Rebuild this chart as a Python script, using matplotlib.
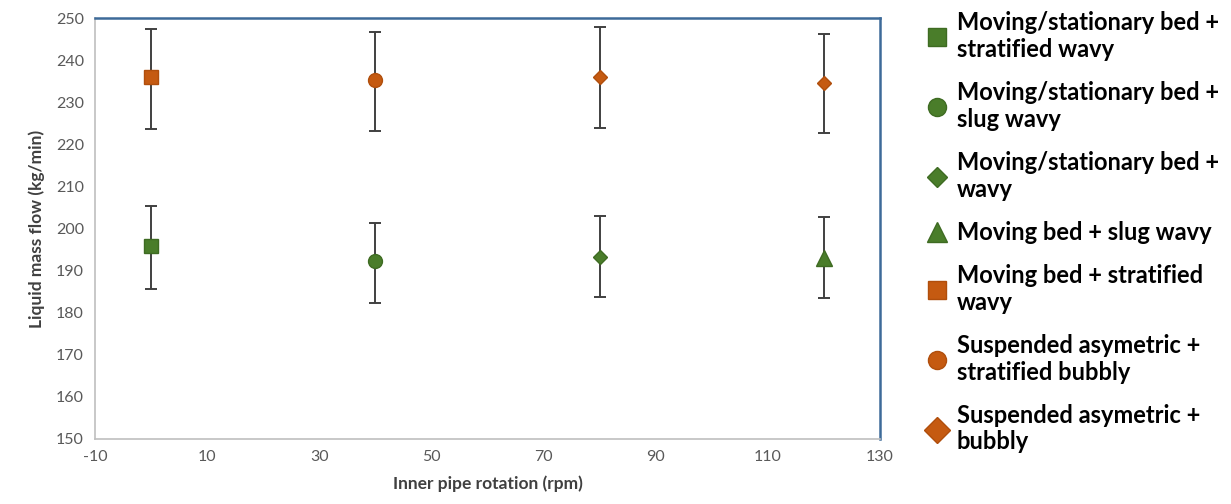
import matplotlib.pyplot as plt

plt.rcParams['font.family'] = ['Lato', 'DejaVu Sans']
plt.rcParams['axes.unicode_minus'] = False

# data
rpm = [0, 40, 80, 120]
labels = ["Moving/stationary bed +\nstratified wavy",
          "Moving/stationary bed +\nslug wavy",
          "Moving/stationary bed +\nwavy",
          "Moving bed + slug wavy",
          "Moving bed + stratified\nwavy",
          "Suspended asymetric +\nstratified bubbly",
          "Suspended asymetric +\nbubbly"]
green_flow = [195.8, 192.2, 193.2, 192.9]
green_low = [185.6, 182.4, 183.7, 183.4]
green_high = [205.3, 201.4, 203.1, 202.7]
orange_flow = [235.9, 235.2, 235.9, 234.6]
orange_low = [223.7, 223.1, 224.0, 222.8]
orange_high = [247.4, 246.7, 247.8, 246.3]

green = '#4a7d2a'
orange = '#c55a11'
green_marks = ['s', 'o', 'D', '^']
orange_marks = ['s', 'o', 'D', 'D']
green_sizes = [10, 10, 7, 11]
orange_sizes = [10, 10, 7, 7]

fig = plt.figure(figsize=(12.31, 5.04), dpi=100)
ax = fig.add_axes([0.0772, 0.129, 0.6377, 0.835])

handles = []
for i, x in enumerate(rpm):
    y = green_flow[i]
    err = [[y - green_low[i]], [green_high[i] - y]]
    ax.errorbar([x], [y], yerr=err, fmt='none', ecolor='#404040',
                elinewidth=1.4, capsize=4, capthick=1.4, zorder=2)
    h, = ax.plot([x], [y], marker=green_marks[i], color=green, ms=green_sizes[i],
                 linestyle='none', markeredgecolor='#3e6b22', zorder=3)
    handles.append(h)
for i, x in enumerate(rpm):
    y = orange_flow[i]
    err = [[y - orange_low[i]], [orange_high[i] - y]]
    ax.errorbar([x], [y], yerr=err, fmt='none', ecolor='#404040',
                elinewidth=1.4, capsize=4, capthick=1.4, zorder=2)
    h, = ax.plot([x], [y], marker=orange_marks[i], color=orange, ms=orange_sizes[i],
                 linestyle='none', markeredgecolor='#b04e0c', zorder=3)
    handles.append(h)

ax.set_xlim(-10, 130)
ax.set_ylim(150, 250)
ax.set_xticks(range(-10, 131, 20))
ax.set_yticks(range(150, 251, 10))
ax.tick_params(length=0, labelsize=11.5, colors='#595959', pad=8)

for s in ['left', 'bottom']:
    ax.spines[s].set_color('#bfbfbf')
    ax.spines[s].set_linewidth(1.2)
for s in ['top', 'right']:
    ax.spines[s].set_color('#3d6a99')
    ax.spines[s].set_linewidth(1.8)

ax.set_xlabel('Inner pipe rotation (rpm)', fontsize=12.5, fontweight='bold',
              color='#404040', labelpad=8)
ax.set_ylabel('Liquid mass flow (kg/min)', fontsize=12.5, fontweight='bold',
              color='#404040', labelpad=8)

leg_handles = handles[:7]
leg_sizes = [13, 13, 10, 14, 13, 13, 13]
leg = fig.legend(leg_handles, labels, loc='upper left', bbox_to_anchor=(0.733, 1.02),
                 frameon=False, prop={'size': 17, 'weight': 'bold'},
                 labelspacing=0.85, handletextpad=0.3, handlelength=1.1)
for h, s in zip(leg.legend_handles, leg_sizes):
    h.set_markersize(s)

fig.savefig('out.png', dpi=100)
